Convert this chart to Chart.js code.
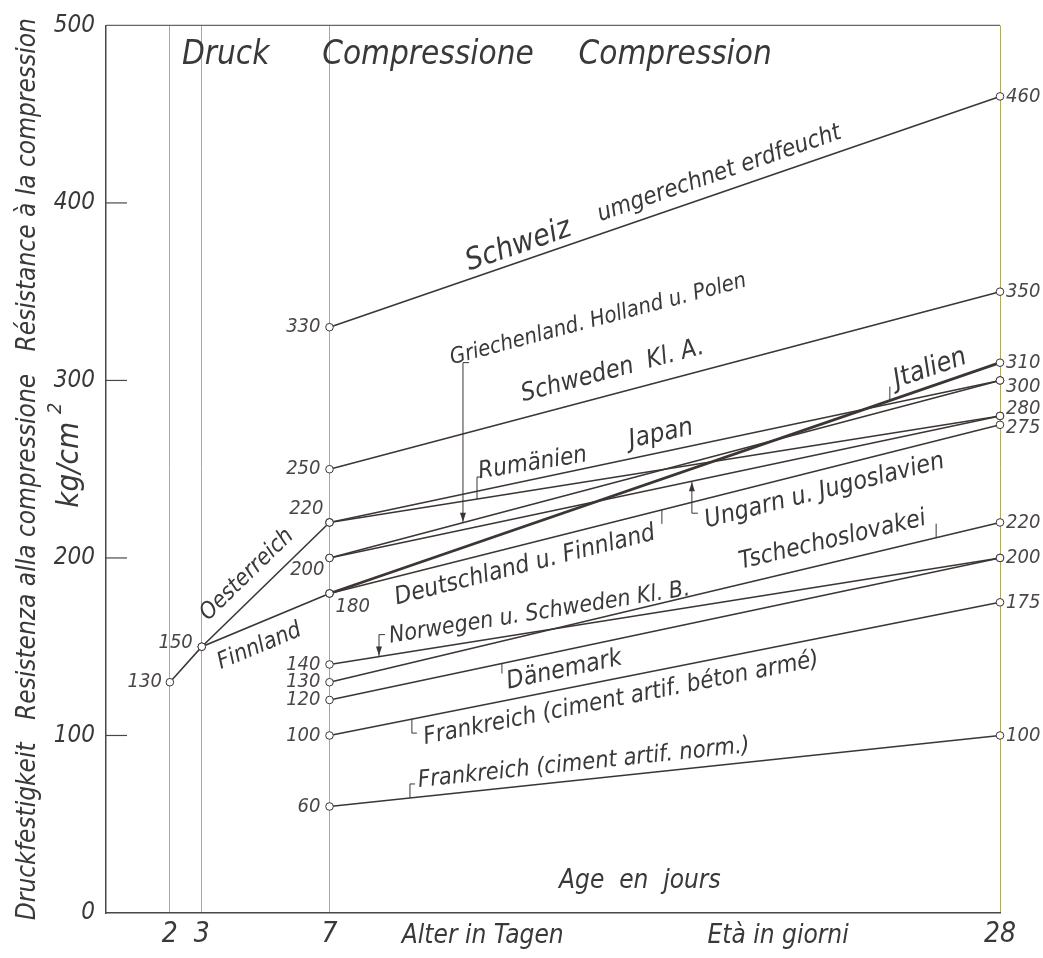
<!DOCTYPE html>
<html>
<head>
<meta charset="utf-8">
<script src="https://cdn.jsdelivr.net/npm/chart.js@4.4.1/dist/chart.umd.min.js"></script>
<style>
  html, body { margin: 0; padding: 0; background: #fff; }
  #wrap { width: 1043px; height: 958px; position: relative; }
</style>
</head>
<body>
<div id="wrap"><canvas id="chart"></canvas></div>
<script>
// Druckfestigkeit (kg/cm2) nach Alter in Tagen
const dayTicks = [2, 3, 7, 28];
const valueTicks = [0, 100, 200, 300, 400, 500];
const days = [7, 28];
const schweiz = [330, 460];
const schwedenA = [250, 350];
const griechenland = [200, 300];
const japan = [220, 300];
const rumaenien = [220, 280];
const ungarn = [200, 280];
const italien = [180, 310];
const deutschland = [180, 275];
const oesterreichDays = [3, 7];
const oesterreich = [150, 220];
const finnlandDays = [2, 3, 7];
const finnland = [130, 150, 180];
const tschecho = [130, 220];
const norwegen = [140, 200];
const daenemark = [120, 200];
const frankreichB = [100, 175];
const frankreichN = [60, 100];

const series = [
  { key: 'schweiz', days: days, vals: schweiz },
  { key: 'schwedenA', days: days, vals: schwedenA },
  { key: 'griechenland', days: days, vals: griechenland },
  { key: 'japan', days: days, vals: japan },
  { key: 'rumaenien', days: days, vals: rumaenien },
  { key: 'ungarn', days: days, vals: ungarn },
  { key: 'italien', days: days, vals: italien },
  { key: 'deutschland', days: days, vals: deutschland },
  { key: 'oesterreich', days: oesterreichDays, vals: oesterreich },
  { key: 'finnland', days: finnlandDays, vals: finnland },
  { key: 'tschecho', days: days, vals: tschecho },
  { key: 'norwegen', days: days, vals: norwegen },
  { key: 'daenemark', days: days, vals: daenemark },
  { key: 'frankreichB', days: days, vals: frankreichB },
  { key: 'frankreichN', days: days, vals: frankreichN }
];

const FONT = "'DejaVu Sans Condensed', 'Liberation Sans Narrow', 'DejaVu Sans', sans-serif";
const INK = '#3b3633';
const TXT = '#3a3838';

// [series, text, start day, offset px (+ above line), font size]
const seriesLabels = [
  ['schweiz', 'Schweiz', 11.46, 8, 30],
  ['schweiz', 'umgerechnet erdfeucht', 15.6, 12, 24],
  ['schwedenA', 'Griechenland. Holland u. Polen', 11.4, 70, 22],
  ['schwedenA', 'Schweden  Kl. A.', 13.2, 16, 25],
  ['rumaenien', 'Rumänien', 11.8, 20, 24],
  ['japan', 'Japan', 16.5, 11, 26],
  ['italien', 'Jtalien', 24.87, 10, 27],
  ['deutschland', 'Ungarn u. Jugoslavien', 18.6, -28, 25],
  ['deutschland', 'Deutschland u. Finnland', 8.9, -27, 24.5],
  ['norwegen', 'Norwegen u. Schweden Kl. B.', 8.96, 12, 23],
  ['tschecho', 'Tschechoslovakei', 20.0, 15, 24.5],
  ['daenemark', 'Dänemark', 12.43, -26, 25],
  ['frankreichB', 'Frankreich (ciment artif. béton armé)', 9.83, -27, 24],
  ['frankreichN', 'Frankreich (ciment artif. norm.)', 9.83, 10, 23.5],
  ['oesterreich', 'Oesterreich', 3.5, 14, 23],
  ['finnland', 'Finnland', 3.26, -28, 23]
];

// [series, day, length px (+ down), arrow at line, foot px]
const connectors = [
  ['griechenland', 11.18, -160, true, 6],
  ['rumaenien', 11.62, -22, false, 5],
  ['ungarn', 18.35, 32, true, 6],
  ['italien', 24.55, -14, false, 0],
  ['deutschland', 17.41, 14, false, 0],
  ['norwegen', 8.55, -22, true, 6],
  ['tschecho', 26.0, -14, false, 0],
  ['daenemark', 12.4, 10, false, 0],
  ['frankreichB', 9.58, 14, false, 5],
  ['frankreichN', 9.52, -14, false, 5]
];

// value label placement: [dx, dy, align]
const valueLabelPos = {
  '2/130': [-8, 0, 'right'],
  '3/150': [-9, -4, 'right'],
  '7/220': [-6, -14, 'right'],
  '7/200': [-5, 12, 'right'],
  '7/180': [6, 13, 'left'],
  '28/300': [6, 6, 'left'],
  '28/280': [6, -7, 'left'],
  '28/275': [6, 3, 'left']
};

// [text, day, value, size, align]
const freeTexts = [
  ['Druck', 2.38, 478, 33, 'left'],
  ['Compressione', 6.77, 478, 33, 'left'],
  ['Compression', 14.8, 478, 33, 'left'],
  ['Age  en  jours', 16.72, 14, 26, 'center'],
  ['Alter in Tagen', 11.8, -17, 26, 'center'],
  ['Età in giorni', 21.05, -17, 26, 'center']
];

function linePoint(chart, key, day) {
  const i = series.findIndex(s => s.key === key);
  const pts = chart.getDatasetMeta(i).data;
  const px = chart.scales.x.getPixelForValue(day);
  for (let k = 0; k < pts.length - 1; k++) {
    const a = pts[k], b = pts[k + 1];
    if (px >= a.x && px <= b.x) {
      const t = (px - a.x) / (b.x - a.x);
      return { x: px, y: a.y + t * (b.y - a.y), ang: Math.atan2(b.y - a.y, b.x - a.x) };
    }
  }
  return null;
}

const extras = {
  id: 'extras',
  afterDatasetsDraw(chart) {
    const ctx = chart.ctx;
    const xs = chart.scales.x, ys = chart.scales.y;
    const area = chart.chartArea;
    ctx.save();

    // top border and inward ticks
    ctx.strokeStyle = '#6a6664';
    ctx.lineWidth = 1.2;
    ctx.beginPath();
    ctx.moveTo(area.left, area.top);
    ctx.lineTo(area.right, area.top);
    ctx.stroke();
    ctx.strokeStyle = '#4a4646';
    valueTicks.slice(1, -1).forEach(v => {
      const y = ys.getPixelForValue(v);
      ctx.beginPath();
      ctx.moveTo(area.left, y);
      ctx.lineTo(area.left + 21, y);
      ctx.stroke();
    });

    // unit on the left, second title line
    ctx.save();
    ctx.translate(70, ys.getPixelForValue(257));
    ctx.rotate(-Math.PI / 2);
    ctx.fillStyle = TXT;
    ctx.textBaseline = 'middle';
    ctx.font = `italic 31px ${FONT}`;
    const w = ctx.measureText('kg/cm').width;
    ctx.textAlign = 'left';
    ctx.fillText('kg/cm', -w / 2 - 8, 0);
    ctx.font = `italic 20px ${FONT}`;
    ctx.fillText('2', w / 2, -14);
    ctx.restore();

    // series labels
    ctx.fillStyle = TXT;
    ctx.textBaseline = 'alphabetic';
    seriesLabels.forEach(([key, text, day, off, size]) => {
      const p = linePoint(chart, key, day);
      if (!p) return;
      ctx.save();
      ctx.translate(p.x, p.y);
      ctx.rotate(p.ang);
      ctx.font = `italic ${size}px ${FONT}`;
      ctx.textAlign = 'left';
      ctx.fillText(text, 0, -off);
      ctx.restore();
    });

    // connectors
    ctx.strokeStyle = INK;
    ctx.fillStyle = INK;
    ctx.lineWidth = 1;
    connectors.forEach(([key, day, len, arrow, foot]) => {
      const p = linePoint(chart, key, day);
      if (!p) return;
      ctx.beginPath();
      ctx.moveTo(p.x, p.y);
      ctx.lineTo(p.x, p.y + len);
      if (foot) ctx.lineTo(p.x + foot, p.y + len);
      ctx.stroke();
      if (arrow) {
        const d = len < 0 ? -1 : 1;
        ctx.beginPath();
        ctx.moveTo(p.x, p.y + 1 * d);
        ctx.lineTo(p.x - 3, p.y + 10 * d);
        ctx.lineTo(p.x + 3, p.y + 10 * d);
        ctx.closePath();
        ctx.fill();
      }
    });

    // value labels at the points
    const seen = {};
    ctx.fillStyle = '#4a4646';
    ctx.font = `italic 20px ${FONT}`;
    ctx.textBaseline = 'middle';
    series.forEach(s => {
      s.days.forEach((d, j) => {
        const id = d + '/' + s.vals[j];
        if (seen[id]) return;
        seen[id] = true;
        const pos = valueLabelPos[id] || (d === 28 ? [6, 0, 'left'] : [-9, 0, 'right']);
        ctx.textAlign = pos[2];
        ctx.fillText(String(s.vals[j]), xs.getPixelForValue(d) + pos[0], ys.getPixelForValue(s.vals[j]) + pos[1]);
      });
    });

    // free texts
    ctx.fillStyle = TXT;
    ctx.textBaseline = 'alphabetic';
    freeTexts.forEach(([text, day, val, size, align]) => {
      ctx.font = `italic ${size}px ${FONT}`;
      ctx.textAlign = align;
      ctx.fillText(text, xs.getPixelForValue(day), ys.getPixelForValue(val));
    });
    ctx.restore();
  }
};

new Chart(document.getElementById('chart'), {
  type: 'line',
  data: {
    datasets: series.map(s => ({
      label: s.key,
      data: s.days.map((d, j) => ({ x: d, y: s.vals[j] })),
      borderColor: INK,
      borderWidth: s.key === 'italien' ? 2.8 : 1.6,
      pointRadius: 3.8,
      pointBackgroundColor: '#fff',
      pointBorderColor: INK,
      pointBorderWidth: 1,
      fill: false,
      tension: 0,
      clip: false
    }))
  },
  options: {
    responsive: true,
    maintainAspectRatio: false,
    animation: false,
    events: [],
    layout: { padding: { top: 23, right: 43, bottom: 0, left: 0 } },
    plugins: { legend: { display: false }, tooltip: { enabled: false } },
    scales: {
      x: {
        type: 'linear',
        min: 0,
        max: 28,
        afterBuildTicks: scale => { scale.ticks = dayTicks.map(v => ({ value: v })); },
        afterFit: scale => { scale.height = 45; },
        grid: {
          display: true,
          drawTicks: false,
          color: c => (c.tick && c.tick.value === 28 ? '#b3ab5c' : '#a8a6a4'),
          lineWidth: 1
        },
        border: { display: true, color: '#4a4646', width: 1.5 },
        ticks: {
          padding: 5,
          color: TXT,
          font: { family: FONT, size: 28, style: 'italic' },
          callback: v => String(v)
        }
      },
      y: {
        min: 0,
        max: 500,
        afterBuildTicks: scale => { scale.ticks = valueTicks.map(v => ({ value: v })); },
        afterFit: scale => { scale.width = 106; },
        grid: { display: false, drawTicks: false },
        border: { display: true, color: '#4a4646', width: 1.5 },
        ticks: {
          padding: 11,
          color: TXT,
          font: { family: FONT, size: 24, style: 'italic' }
        },
        title: {
          display: true,
          text: 'Druckfestigkeit   Resistenza alla compressione   Résistance à la compression',
          color: TXT,
          font: { family: FONT, size: 26, style: 'italic', lineHeight: 1.6 },
          padding: { top: 7, bottom: 0 }
        }
      }
    }
  },
  plugins: [extras]
});
</script>
</body>
</html>
